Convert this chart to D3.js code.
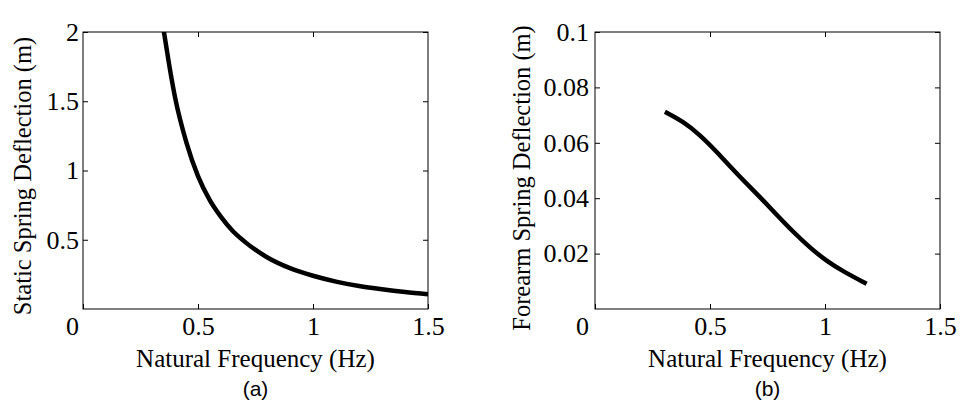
<!DOCTYPE html>
<html><head><meta charset="utf-8">
<script src="https://cdn.jsdelivr.net/npm/d3@7"></script>
<style>body{margin:0;background:#fff}svg{display:block}</style>
</head><body>
<script>
// Panel (a): static spring deflection vs natural frequency
const freqA = [0.35, 0.375, 0.4, 0.45, 0.5, 0.55, 0.6, 0.65, 0.7, 0.8, 0.9, 1.0, 1.1, 1.2, 1.3, 1.4, 1.5];
const deflA = [2.02, 1.76, 1.53, 1.2, 0.96, 0.79, 0.665, 0.565, 0.49, 0.374, 0.295, 0.24, 0.198, 0.166, 0.142, 0.122, 0.106];
// Panel (b): forearm spring deflection vs natural frequency
const freqB = [0.304, 0.384, 0.457, 0.529, 0.601, 0.674, 0.73, 0.79, 0.862, 0.935, 1.007, 1.08, 1.181];
const deflB = [0.0712, 0.0677, 0.0628, 0.0568, 0.0502, 0.0440, 0.0393, 0.0340, 0.0278, 0.0221, 0.0173, 0.0135, 0.0091];
const xTicks = [0, 0.5, 1, 1.5];
const yTicksA = [0.5, 1, 1.5, 2];
const yTicksB = [0.02, 0.04, 0.06, 0.08, 0.1];
const yLabelA = "Static Spring Deflection (m)";
const yLabelB = "Forearm Spring Deflection (m)";
const xLabel = "Natural Frequency (Hz)";

const svg = d3.select("body").append("svg").attr("width", 961).attr("height", 402);
const serif = "'Liberation Serif','Times New Roman',serif";

function panel(cfg) {
  const {left, right, top, bottom, ymax, yTicks, fx, fy, ylab, ylabX, ylabY, tag, zeroShift, yPad, curve} = cfg;
  const x = d3.scaleLinear().domain([0, 1.5]).range([left, right]);
  const y = d3.scaleLinear().domain([0, ymax]).range([bottom, top]);
  const g = svg.append("g");
  const tl = 5;
  g.append("rect").attr("x", left).attr("y", top).attr("width", right-left).attr("height", bottom-top)
    .attr("fill", "none").attr("stroke", "#000").attr("stroke-width", 1);
  const xa = g.append("g").attr("transform", `translate(0,${bottom})`)
    .call(d3.axisBottom(x).tickValues(xTicks).tickSizeInner(-tl).tickSizeOuter(0).tickPadding(8).tickFormat(d3.format("")));
  xa.select(".domain").remove();
  xa.selectAll("text").attr("font-family", serif).attr("font-size", 26).attr("fill", "#000")
    .attr("dx", d => d === 0 ? zeroShift : 0);
  g.append("g").attr("transform", `translate(0,${top})`)
    .call(d3.axisTop(x).tickValues(xTicks.filter(d => d > 0 && d < 1.5)).tickSizeInner(-tl).tickSizeOuter(0).tickFormat(""))
    .select(".domain").remove();
  const ya = g.append("g").attr("transform", `translate(${left},0)`)
    .call(d3.axisLeft(y).tickValues(yTicks).tickSizeInner(-tl).tickSizeOuter(0).tickPadding(yPad).tickFormat(d3.format("")));
  ya.select(".domain").remove();
  ya.selectAll("text").attr("font-family", serif).attr("font-size", 26).attr("fill", "#000");
  g.append("g").attr("transform", `translate(${right},0)`)
    .call(d3.axisRight(y).tickValues(yTicks).tickSizeInner(-tl).tickSizeOuter(0).tickFormat(""))
    .select(".domain").remove();
  const cid = "clip" + tag;
  svg.append("clipPath").attr("id", cid).append("rect")
    .attr("x", left).attr("y", top).attr("width", right-left).attr("height", bottom-top);
  const data = fx.map((d, i) => [d, fy[i]]);
  g.append("path").datum(data).attr("clip-path", `url(#${cid})`)
    .attr("d", d3.line().x(d => x(d[0])).y(d => y(d[1])).curve(curve))
    .attr("fill", "none").attr("stroke", "#000").attr("stroke-width", 4.5).attr("stroke-linejoin", "round");
  g.append("text").attr("transform", `translate(${ylabX},${ylabY}) rotate(-90)`)
    .attr("text-anchor", "middle").attr("dominant-baseline", "central")
    .attr("font-family", serif).attr("font-size", 24.5).text(ylab);
  const cx = (left + right) / 2;
  g.append("text").attr("x", cx).attr("y", 358).attr("text-anchor", "middle").attr("dominant-baseline", "central")
    .attr("font-family", serif).attr("font-size", 25).text(xLabel);
  g.append("text").attr("x", cx).attr("y", 388).attr("text-anchor", "middle").attr("dominant-baseline", "central")
    .attr("font-family", "'Liberation Sans',Arial,sans-serif").attr("font-size", 21).text(`(${tag})`);
}

panel({left: 83, right: 428, top: 32, bottom: 309, ymax: 2, yTicks: yTicksA, fx: freqA, fy: deflA,
  ylab: yLabelA, ylabX: 22, ylabY: 176, tag: "a", zeroShift: -11, yPad: 4, curve: d3.curveMonotoneX});
panel({left: 595, right: 940, top: 32, bottom: 309, ymax: 0.1, yTicks: yTicksB, fx: freqB, fy: deflB,
  ylab: yLabelB, ylabX: 521, ylabY: 178, tag: "b", zeroShift: -13, yPad: 6, curve: d3.curveBasis});
</script>
</body></html>
